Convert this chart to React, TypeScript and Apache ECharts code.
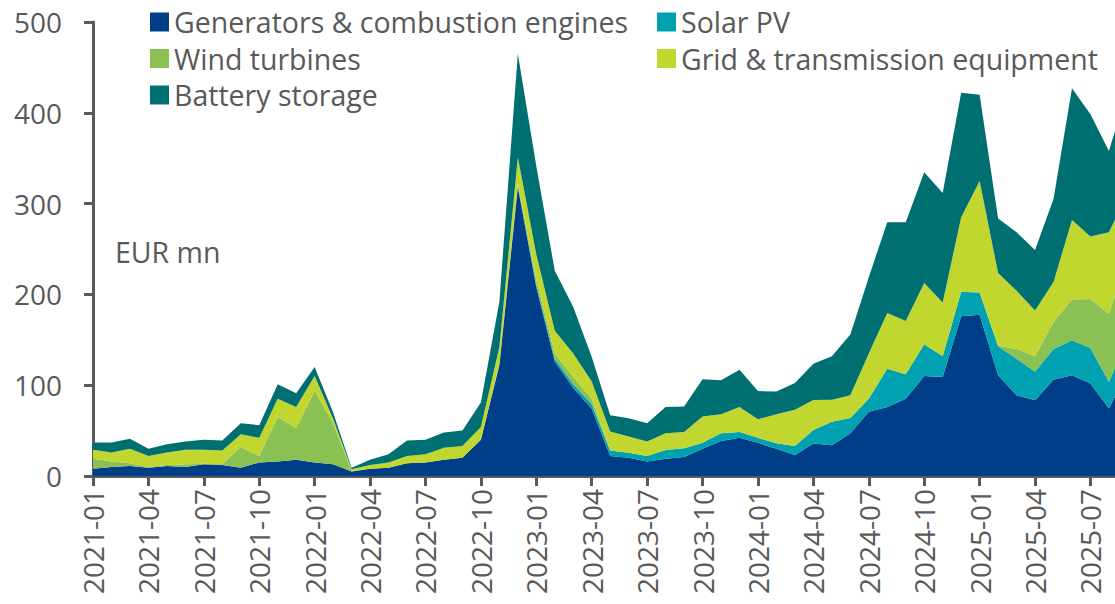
import React, { useEffect, useRef } from "react";
import * as echarts from "echarts";

const months = [
  "2021-01", "2021-02", "2021-03", "2021-04", "2021-05", "2021-06", "2021-07", "2021-08", "2021-09", "2021-10", "2021-11", "2021-12",
  "2022-01", "2022-02", "2022-03", "2022-04", "2022-05", "2022-06", "2022-07", "2022-08", "2022-09", "2022-10", "2022-11", "2022-12",
  "2023-01", "2023-02", "2023-03", "2023-04", "2023-05", "2023-06", "2023-07", "2023-08", "2023-09", "2023-10", "2023-11", "2023-12",
  "2024-01", "2024-02", "2024-03", "2024-04", "2024-05", "2024-06", "2024-07", "2024-08", "2024-09", "2024-10", "2024-11", "2024-12",
  "2025-01", "2025-02", "2025-03", "2025-04", "2025-05", "2025-06", "2025-07", "2025-08", "2025-09",
];

const generators = [
  8, 10, 11, 9, 11, 10, 13, 12, 9, 15, 16, 18,
  15, 13, 5, 8, 9, 14, 15, 18, 20, 40, 122, 318,
  208, 126, 97, 74, 22, 20, 16, 19, 21, 30, 38.5, 42,
  36.5, 30, 23, 35.7, 34, 47, 70.7, 76, 85, 110, 109, 176,
  177.7, 111, 89, 83.5, 106, 111, 101.8, 74.4, 115,
];
const solarPV = [
  0, 0, 0, 0, 0, 0, 0, 0, 0, 0, 0, 0,
  0, 0, 0, 0, 0, 0, 0, 0, 0, 0, 1, 2,
  3, 3, 4, 5, 6, 5.5, 6, 9.5, 9.5, 6.5, 8.5, 6.5,
  5.5, 6, 10, 15, 25.7, 17, 14.3, 42, 27, 35, 23, 27,
  24.3, 32, 40, 31.2, 34, 38.5, 39.2, 29.3, 35,
];
const windTurbines = [
  11, 6, 3, 1, 1, 3, 0.5, 1, 23, 7, 49, 35,
  79, 45, 0.5, 0, 0, 0, 0, 0, 0, 0, 1, 3,
  5, 6, 8, 6, 0, 0, 0, 0, 0, 0, 0, 0,
  0, 0, 0, 0, 0, 0, 0, 0, 0, 0, 0, 0,
  0, 0.5, 11, 17.3, 29.6, 45, 54, 75.1, 90,
];
const gridEquipment = [
  10, 10, 16, 12, 14, 16, 15.5, 15, 14, 20, 20, 23,
  16, 5, 2, 4, 6, 8, 9, 13, 13, 14, 18, 28,
  28, 25, 26, 19, 21, 18, 16, 18.5, 18, 29, 21, 27.5,
  20.5, 32, 40, 33, 24.3, 25, 50, 61.5, 58.7, 67.5, 59, 82,
  123, 80, 64, 50.4, 44, 87.5, 68.7, 89.7, 70,
];
const batteryStorage = [
  8, 11, 11, 8, 9, 9, 11, 11, 12, 14, 16, 15,
  10, 7, 1.5, 6, 9, 17, 16, 17, 17, 27, 50, 114,
  97, 66, 51, 27, 18, 20, 20, 29, 28, 41, 37.5, 41,
  31, 25, 29.5, 40, 48, 66.7, 84, 100, 108.8, 122, 120.7, 137,
  95, 60, 64.5, 66.6, 91.4, 145, 134.8, 89.5, 115,
];

const seriesNames = [
  "Generators & combustion engines",
  "Solar PV",
  "Wind turbines",
  "Grid & transmission equipment",
  "Battery storage",
];
const seriesColors = ["#003f87", "#00a1b1", "#8bc052", "#c1d72f", "#006f72"];

const FONT = "Open Sans";
const GREY = "#595959";

export default function App() {
  const ref = useRef<HTMLDivElement>(null);
  useEffect(() => {
    if (!ref.current) return;
    const chart = echarts.init(ref.current, undefined, { renderer: "svg" });
    const values = [generators, solarPV, windTurbines, gridEquipment, batteryStorage];
    const legendText = { fontFamily: FONT, fontSize: 28.5, color: GREY, lineHeight: 30 };
    const legendBase = {
      orient: "vertical",
      top: 7,
      padding: 0,
      icon: "rect",
      itemWidth: 19,
      itemHeight: 19,
      itemGap: 6.5,
      itemTextGap: 8,
      selectedMode: false,
      textStyle: legendText,
    };
    chart.setOption({
      animation: false,
      textStyle: { fontFamily: FONT },
      grid: { left: 93, right: 7.6, top: 22, bottom: 128, outerBoundsMode: "none" },
      legend: [
        { ...legendBase, data: [seriesNames[0], seriesNames[2], seriesNames[4]], left: 150 },
        { ...legendBase, data: [seriesNames[1], seriesNames[3]], left: 657 },
      ],
      graphic: [
        {
          type: "text",
          left: 115,
          top: 237,
          style: { text: "EUR mn", fontFamily: FONT, fontSize: 28.5, fill: GREY },
        },
      ],
      xAxis: {
        type: "category",
        data: months,
        boundaryGap: false,
        axisLine: { show: true, lineStyle: { color: GREY, width: 3 } },
        axisTick: { show: true, interval: 2, length: 10, lineStyle: { color: GREY, width: 3 } },
        axisLabel: {
          interval: 2,
          rotate: 90,
          margin: 13,
          fontFamily: FONT,
          fontSize: 28,
          color: GREY,
        },
      },
      yAxis: {
        type: "value",
        min: 0,
        max: 500,
        interval: 100,
        splitLine: { show: false },
        axisLine: { show: true, lineStyle: { color: GREY, width: 3 } },
        axisTick: { show: true, length: 9, lineStyle: { color: GREY, width: 3 } },
        axisLabel: { margin: 31, fontFamily: FONT, fontSize: 28, color: GREY },
      },
      series: seriesNames.map((name, i) => ({
        name,
        type: "line",
        stack: "total",
        data: values[i],
        symbol: "none",
        showSymbol: false,
        lineStyle: { width: 0 },
        itemStyle: { color: seriesColors[i] },
        areaStyle: { color: seriesColors[i], opacity: 1 },
        emphasis: { disabled: true },
      })),
    });
    return () => chart.dispose();
  }, []);
  return (
    <div style={{ position: "fixed", left: 0, top: 0, width: 1115, height: 604, overflow: "hidden", background: "#fff" }}>
      <div ref={ref} style={{ width: 1135, height: 604 }} />
    </div>
  );
}
